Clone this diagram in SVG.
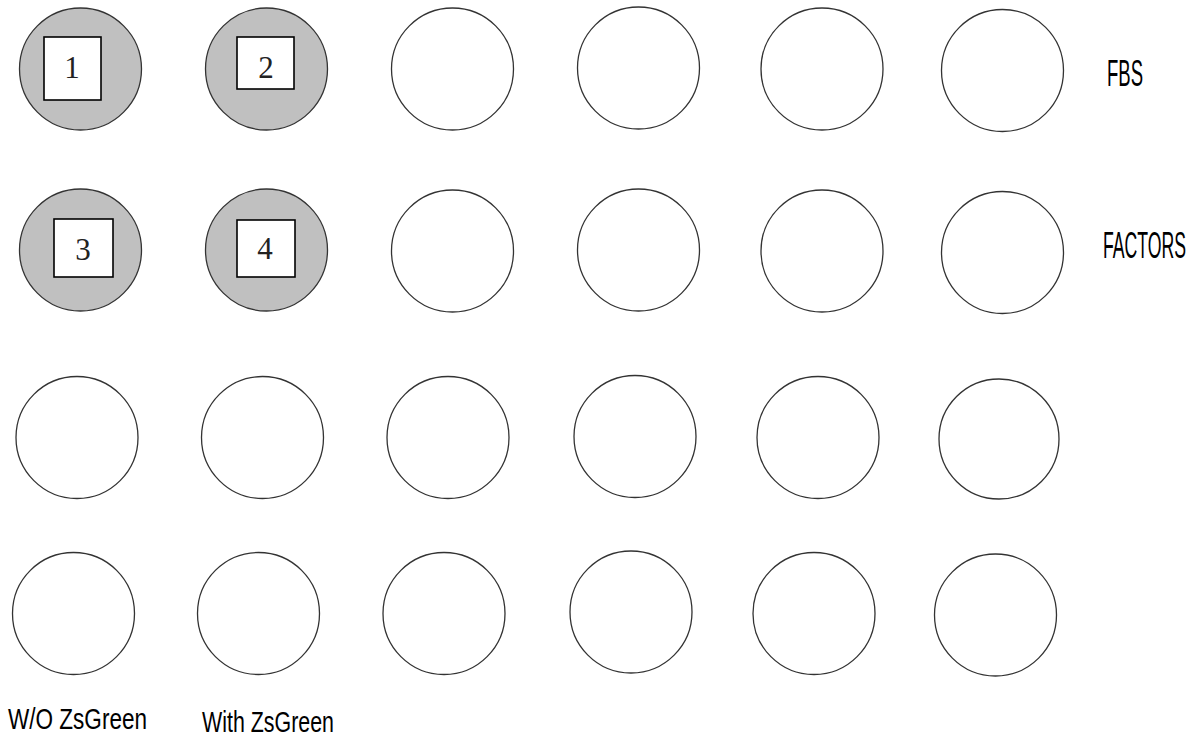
<svg xmlns="http://www.w3.org/2000/svg" width="1199" height="746" viewBox="0 0 1199 746">
<style>
.w{fill:#ffffff;stroke:#333333;stroke-width:1.3}
.g{fill:#c0c0c0;stroke:#333333;stroke-width:1.3}
.b{fill:#ffffff;stroke:#000000;stroke-width:1.6}
.n{font-family:"Liberation Serif",serif;font-size:31px;fill:#222222;text-anchor:middle}
.l{font-family:"Liberation Sans Narrow","Liberation Sans",sans-serif;font-size:38px;fill:#000000}
.t{font-size:20px}
.s{font-size:30px}
</style>
<rect width="1199" height="746" fill="#ffffff"/>
<g id="connectors"/>
<g id="well-1"><circle class="g" cx="80.5" cy="69" r="61"/><rect class="b" x="44" y="37" width="57" height="63"/><text class="n" x="72" y="78">1</text></g>
<g id="well-2"><circle class="g" cx="266.5" cy="69" r="61"/><rect class="b" x="237" y="37" width="57" height="52"/><text class="n" x="266" y="78">2</text></g>
<g id="r1c3"><circle class="w" cx="452.5" cy="69" r="61"/></g>
<g id="r1c4"><circle class="w" cx="638.5" cy="68" r="61"/></g>
<g id="r1c5"><circle class="w" cx="822" cy="69" r="61"/></g>
<g id="r1c6"><circle class="w" cx="1002.5" cy="70.5" r="61"/></g>
<g id="well-3"><circle class="g" cx="80.5" cy="250" r="61"/><rect class="b" x="54" y="219" width="59" height="58"/><text class="n" x="83" y="260">3</text></g>
<g id="well-4"><circle class="g" cx="266.5" cy="250" r="61"/><rect class="b" x="237" y="220" width="58" height="57"/><text class="n" x="265" y="259">4</text></g>
<g id="r2c3"><circle class="w" cx="452.5" cy="251" r="61"/></g>
<g id="r2c4"><circle class="w" cx="638.5" cy="250" r="61"/></g>
<g id="r2c5"><circle class="w" cx="822" cy="251" r="61"/></g>
<g id="r2c6"><circle class="w" cx="1002.5" cy="252.5" r="61"/></g>
<g id="r3c1"><circle class="w" cx="77" cy="437.5" r="61"/></g>
<g id="r3c2"><circle class="w" cx="262.5" cy="437.5" r="61"/></g>
<g id="r3c3"><circle class="w" cx="448" cy="437.5" r="61"/></g>
<g id="r3c4"><circle class="w" cx="635" cy="436.5" r="61"/></g>
<g id="r3c5"><circle class="w" cx="818" cy="437.5" r="61"/></g>
<g id="r3c6"><circle class="w" cx="999" cy="439" r="60"/></g>
<g id="r4c1"><circle class="w" cx="73.5" cy="613.5" r="61"/></g>
<g id="r4c2"><circle class="w" cx="258.5" cy="613.5" r="61"/></g>
<g id="r4c3"><circle class="w" cx="444" cy="613.5" r="61"/></g>
<g id="r4c4"><circle class="w" cx="631" cy="612" r="61"/></g>
<g id="r4c5"><circle class="w" cx="814" cy="613.5" r="61"/></g>
<g id="r4c6"><circle class="w" cx="995.5" cy="615" r="61"/></g>
<g id="label-fbs"><text class="l t" transform="translate(1107,86) scale(1,1.85)" x="0" y="0" textLength="36" lengthAdjust="spacingAndGlyphs">FBS</text></g>
<g id="label-factors"><text class="l t" transform="translate(1103,258) scale(1,1.85)" x="0" y="0" textLength="83" lengthAdjust="spacingAndGlyphs">FACTORS</text></g>
<g id="label-wo"><text class="l s" x="8" y="729" textLength="139" lengthAdjust="spacingAndGlyphs">W/O ZsGreen</text></g>
<g id="label-with"><text class="l s" x="202" y="732" textLength="132" lengthAdjust="spacingAndGlyphs">With ZsGreen</text></g>
</svg>
